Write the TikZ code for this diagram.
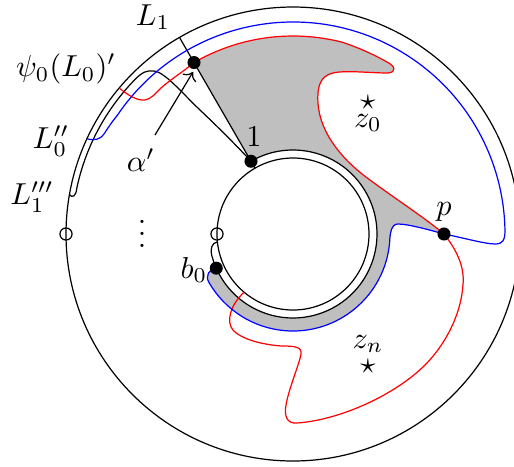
\documentclass[tikz,border=0pt]{standalone}
\usetikzlibrary{arrows.meta}
\begin{document}
\begin{tikzpicture}[x=0.33pt,y=0.33pt,
  dot/.style={circle,fill=black,inner sep=0pt,minimum size=4.3pt},
  odot/.style={circle,draw=black,inner sep=0pt,minimum size=4pt},
  lab/.style={inner sep=0pt},
  redc/.style={draw=red},
  bluec/.style={draw=blue},
  band/.style={fill=lightgray}]
\useasboundingbox (-293,-232) rectangle (221,234);
\coordinate (O) at (0,0);
\coordinate (D) at (120:198);
\coordinate (one) at (120:84);
\coordinate (Lout) at (120:227);
\coordinate (Lin) at (120:76);
\coordinate (p) at (0:151);
\coordinate (b0) at (204:84);
\coordinate (a1) at (-138,99);
\coordinate (a2) at (-100,162);
% gray band
\path[band] (D) arc[start angle=120,end angle=76,radius=198]
 .. controls (62,188) and (82,179) .. (94,172)
 .. controls (102,168) and (104,162) .. (95,161)
 .. controls (77,161) and (52,164) .. (40,161)
 .. controls (27,158) and (24,147) .. (25,131)
 .. controls (27,99) and (52,72) .. (77,54)
 .. controls (107,32) and (132,16) .. (p)
 .. controls (137,4) and (115,10) .. (105,10)
 .. controls (98,10) and (97,0) .. (-5:97)
 arc[start angle=-5,end angle=-150,radius=97]
 .. controls (-88,-42) and (-84,-35) .. (b0)
 arc[start angle=204,end angle=480,radius=84]
 -- cycle;
% circles
\draw (O) circle[radius=227];
\draw (O) circle[radius=76];
% black curve
\draw (170:227) .. controls (-221,36) and (-217,37) .. (168:221)
 arc[start angle=168,end angle=136,radius=221]
 .. controls (-151,162) and (-146,164) .. (-139,163)
 .. controls (-128,162) and (-110,140) .. (-93,124)
 .. controls (-75,107) and (-55,87) .. (one)
 arc[start angle=120,end angle=-165,radius=84]
 .. controls (-83,-14) and (-81,-9) .. (186:76);
% radial line L1
\draw (Lout) -- (D) -- (one) -- (Lin);
% red curve
\draw[redc] (140:227) .. controls (-166,140) and (-157,133) .. (-148,134)
 .. controls (-142,135) and (-138,140) .. (-132,146)
 .. controls (-122,155) and (-110,162) .. (D)
 arc[start angle=120,end angle=76,radius=198]
 .. controls (62,188) and (82,179) .. (94,172)
 .. controls (102,168) and (104,162) .. (95,161)
 .. controls (77,161) and (52,164) .. (40,161)
 .. controls (27,158) and (24,147) .. (25,131)
 .. controls (27,99) and (52,72) .. (77,54)
 .. controls (107,32) and (132,16) .. (p)
 .. controls (162,-14) and (172,-31) .. (170,-51)
 .. controls (168,-81) and (152,-111) .. (132,-131)
 .. controls (102,-161) and (47,-186) .. (4,-189)
 .. controls (-6,-190) and (-9,-182) .. (-7,-171)
 .. controls (-4,-154) and (7,-128) .. (8,-120)
 .. controls (9,-113) and (2,-112) .. (-11,-112)
 .. controls (-28,-111) and (-51,-106) .. (-60,-96)
 .. controls (-67,-88) and (-63,-71) .. (230:76);
% blue curve
\draw[bluec] (155.2:227) .. controls (-198,93) and (-192,95) .. (-189,100)
 .. controls (-185,106) and (-182,111) .. (146:212)
 arc[start angle=146,end angle=1,radius=212]
 .. controls (212,-6) and (210,-10) .. (202,-10)
 .. controls (192,-10) and (167,-3) .. (p)
 .. controls (137,4) and (115,10) .. (105,10)
 .. controls (98,10) and (97,0) .. (-5:97)
 arc[start angle=-5,end angle=-150,radius=97]
 .. controls (-88,-42) and (-84,-35) .. (b0);
% arrow alpha'
\draw[->] (a1) -- (a2);
% points
\node[dot] (nD) at (D) {};
\node[dot] (n1) at (one) {};
\node[dot] (np) at (p) {};
\node[dot] (nb) at (b0) {};
\node[odot] (o1) at (180:227) {};
\node[odot] (o2) at (180:76) {};
% labels
\node[lab] (tL1) at (-140,217) {$L_1$};
\node[lab] (tpsi) at (-227,165) {$\psi_0(L_0)'$};
\node[lab] (tL0) at (-242,93) {$L_0''$};
\node[lab] (tL1b) at (-261,37) {$L_1'''$};
\node[lab] (tal) at (-152,74) {$\alpha'$};
\node[lab] (t1) at (-39,97) {$1$};
\node[lab] (s0) at (75,132) {$\star$};
\node[lab] (tz0) at (75,111) {$z_0$};
\node[lab] (tp) at (151,22) {$p$};
\node[lab] (tb0) at (-99,-36) {$b_0$};
\node[lab] (tzn) at (75,-110) {$z_n$};
\node[lab] (sn) at (75,-132) {$\star$};
\node[lab,anchor=south] (vd) at (-151,-14) {$\vdots$};
\end{tikzpicture}
\end{document}
